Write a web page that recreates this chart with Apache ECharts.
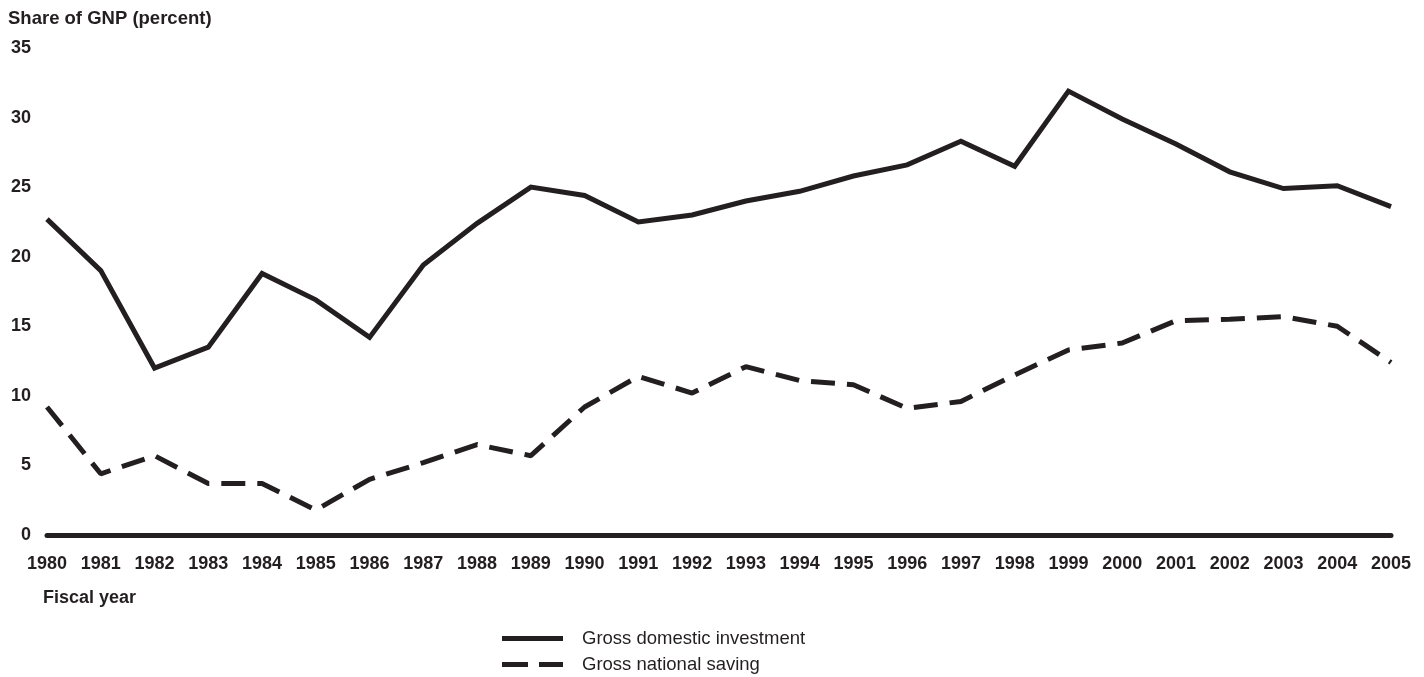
<!DOCTYPE html>
<html>
<head>
<meta charset="utf-8">
<script src="https://cdn.jsdelivr.net/npm/echarts@6/dist/echarts.min.js"></script>
<style>
html,body{margin:0;padding:0;background:#fff;}
#chart{width:1424px;height:677px;}
</style>
</head>
<body>
<div id="chart"></div>
<script>
const years = ['1980','1981','1982','1983','1984','1985','1986','1987','1988','1989','1990','1991','1992','1993','1994','1995','1996','1997','1998','1999','2000','2001','2002','2003','2004','2005'];
const investment = [22.7, 19.0, 12.0, 13.5, 18.8, 16.9, 14.2, 19.4, 22.4, 25.0, 24.4, 22.5, 23.0, 24.0, 24.7, 25.8, 26.6, 28.3, 26.5, 31.9, 29.9, 28.1, 26.1, 24.9, 25.1, 23.6];
const saving = [9.2, 4.4, 5.7, 3.7, 3.7, 1.8, 4.0, 5.2, 6.5, 5.7, 9.2, 11.4, 10.2, 12.1, 11.1, 10.8, 9.1, 9.6, 11.5, 13.3, 13.8, 15.4, 15.5, 15.7, 15.0, 12.4];
const yTicks = [0, 5, 10, 15, 20, 25, 30, 35];
const seriesNames = ['Gross domestic investment', 'Gross national saving'];

const ink = '#231f20';
const font = 'Liberation Sans, Arial, Helvetica, sans-serif';
const legendText = {fontFamily: font, fontSize: 18.5, color: ink, padding: [0, 0, 0, 14]};
const chart = echarts.init(document.getElementById('chart'), null, {renderer: 'canvas'});
chart.setOption({
  backgroundColor: '#fff',
  animation: false,
  title: [
    {text: 'Share of GNP (percent)', left: 3, top: 4,
     textStyle: {fontFamily: font, fontSize: 18.5, fontWeight: 'bold', color: ink}},
    {text: 'Fiscal year', left: 38, top: 584,
     textStyle: {fontFamily: font, fontSize: 18, fontWeight: 'bold', color: ink}}
  ],
  grid: {left: 47, right: 33, top: 48, bottom: 142, containLabel: false},
  legend: [
    {left: 502, top: 629, padding: 0, itemWidth: 61, itemHeight: 5,
     icon: 'path://M0,0H61V5H0Z',
     textStyle: legendText, data: [seriesNames[0]]},
    {left: 502, top: 655, padding: 0, itemWidth: 61, itemHeight: 5,
     icon: 'path://M0,0H26V5H0Z M37,0H61V5H37Z',
     textStyle: legendText, data: [seriesNames[1]]}
  ],
  xAxis: {
    type: 'category', data: years, boundaryGap: false,
    axisLine: {show: true, lineStyle: {color: ink, width: 5}},
    axisTick: {show: false},
    axisLabel: {fontFamily: font, fontSize: 18, fontWeight: 'bold', color: ink, margin: 20, interval: 0},
    splitLine: {show: false}
  },
  yAxis: {
    type: 'value', min: 0, max: 35, interval: 5,
    axisLine: {show: false}, axisTick: {show: false}, splitLine: {show: false},
    axisLabel: {fontFamily: font, fontSize: 18, fontWeight: 'bold', color: ink, margin: 16,
      formatter: v => yTicks.includes(v) ? String(v) : ''}
  },
  series: [
    {name: seriesNames[0], type: 'line', data: investment, symbol: 'none',
     lineStyle: {color: ink, width: 5, join: 'miter'}, itemStyle: {color: ink}},
    {name: seriesNames[1], type: 'line', data: saving, symbol: 'none',
     lineStyle: {color: ink, width: 5, type: [24, 12]}, itemStyle: {color: ink}}
  ]
});
</script>
</body>
</html>
